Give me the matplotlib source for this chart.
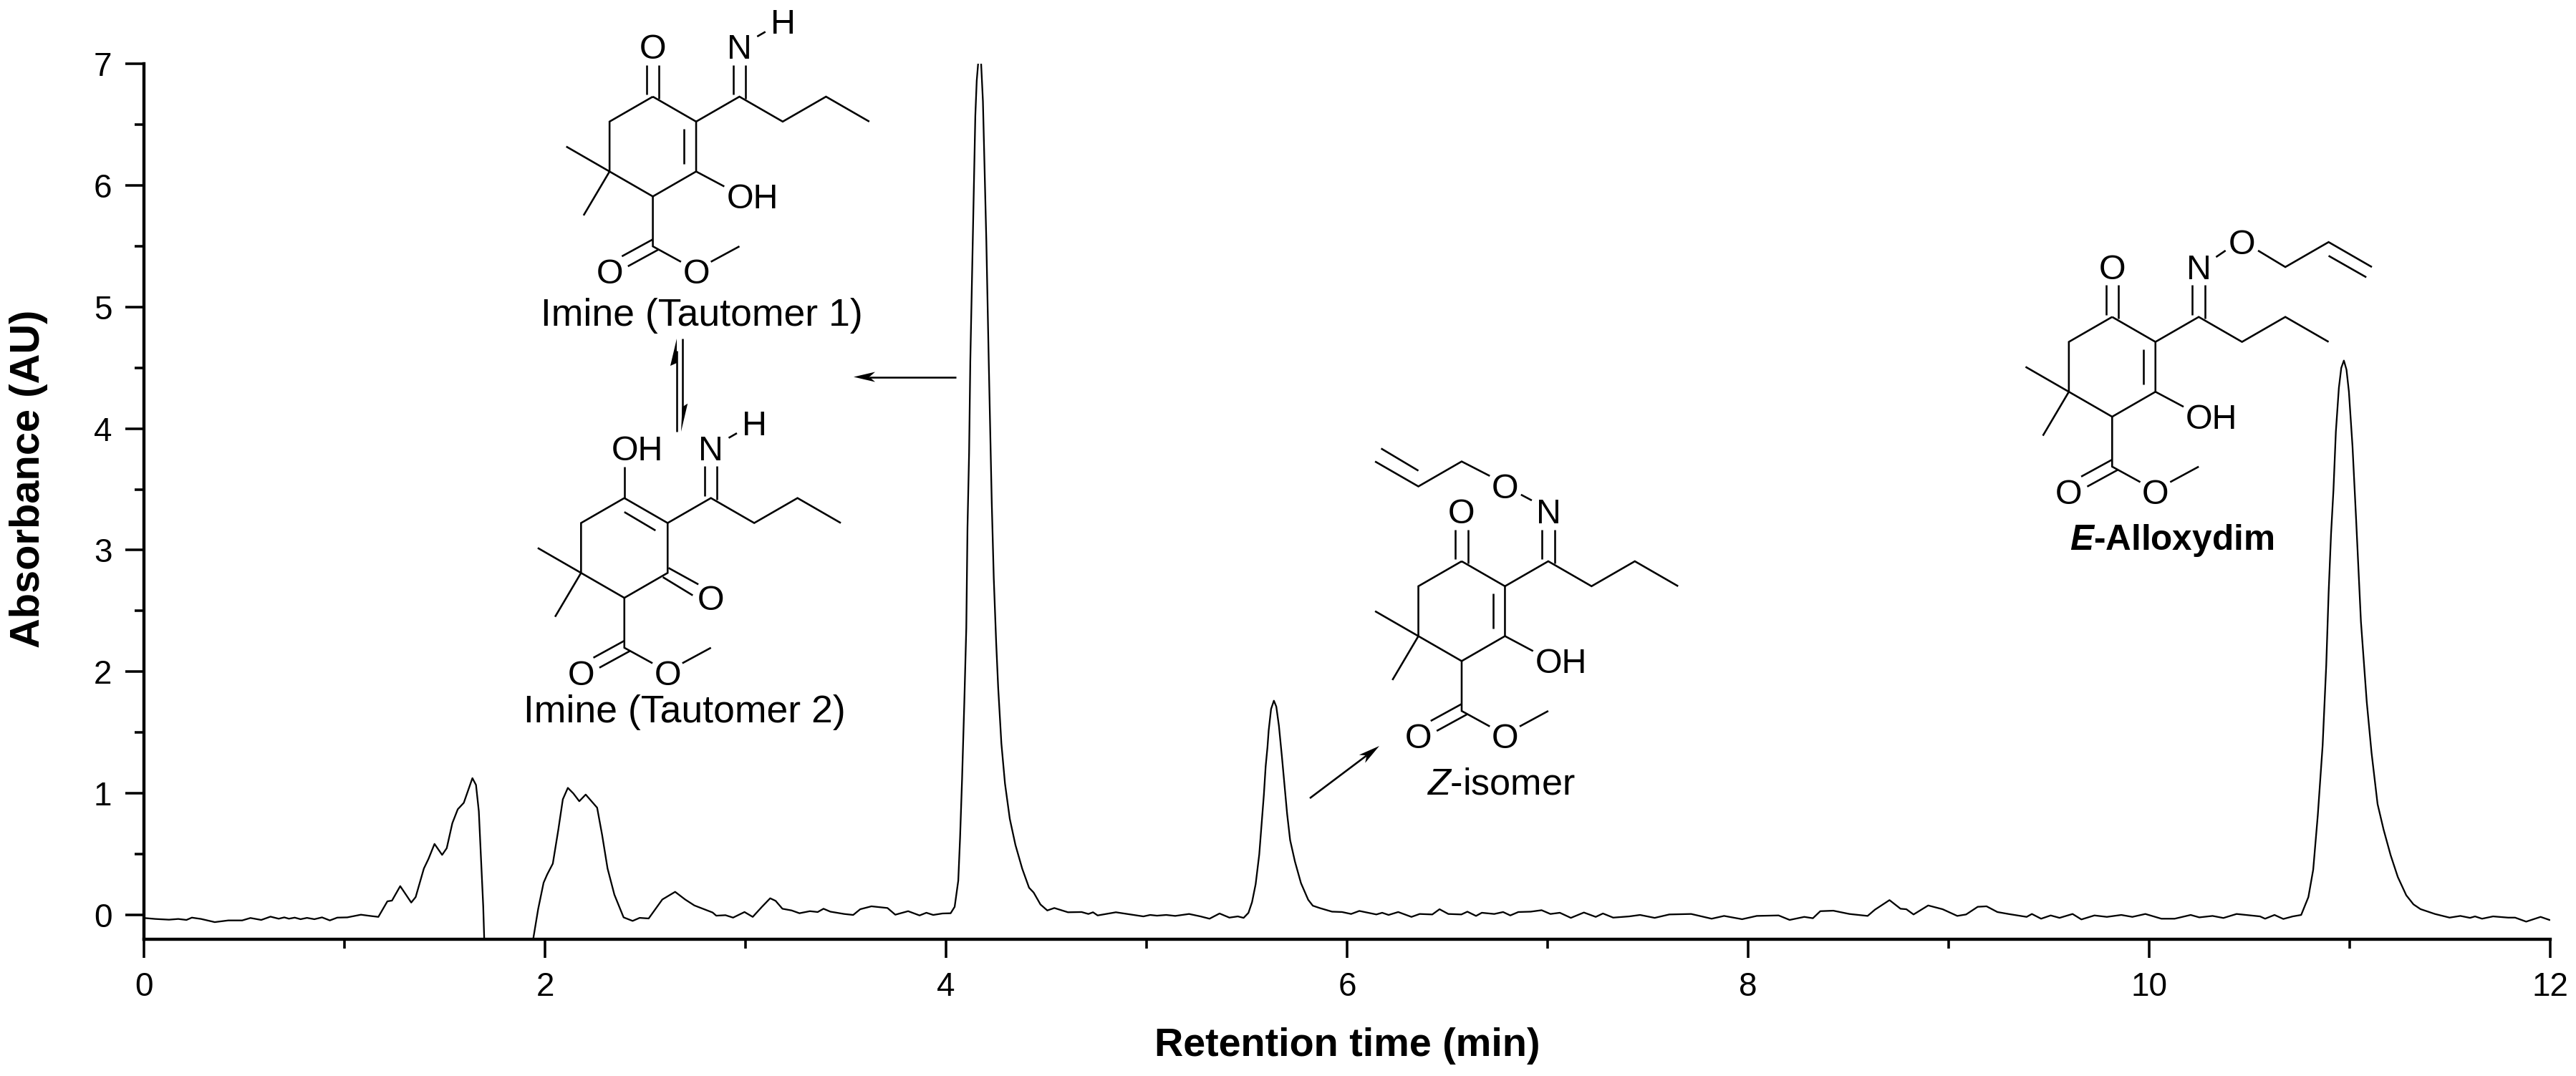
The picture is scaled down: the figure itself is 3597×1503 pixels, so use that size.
import numpy as np
import matplotlib
matplotlib.use('Agg')
import matplotlib.pyplot as plt
from matplotlib.ticker import MultipleLocator

plt.rcParams['font.family'] = ['Liberation Sans', 'DejaVu Sans']
plt.rcParams['mathtext.fontset'] = 'custom'
plt.rcParams['mathtext.it'] = 'Liberation Sans:italic'
plt.rcParams['mathtext.bfit'] = 'Liberation Sans:italic:bold'

# Chromatogram. The trace leaves the axis between
# the two solvent humps, so it comes in two parts.
rt_front = [0, .057, .125, .171, .212, .239, .285, .353, .421, .49, .531, .585, .631, .672, .7, .723, .752, .781, .813,
            .85, .888, .927, .964, 1.014, 1.082, 1.128, 1.169, 1.214, 1.237, 1.278, 1.333, 1.355, 1.396, 1.419,
            1.449, 1.487, 1.51, 1.538, 1.565, 1.595, 1.638, 1.656, 1.67, 1.681, 1.692, 1.697]
abs_front = [-.025, -.033, -.039, -.033, -.041, -.022, -.033, -.059, -.045, -.045, -.025, -.041, -.014, -.031, -.02,
             -.031, -.022, -.035, -.024, -.035, -.02, -.045, -.022, -.02, .002, -.008, -.016, .112, .118, .237,
             .102, .147, .382, .461, .584, .494, .549, .755, .869, .922, 1.125, 1.069, .853, .461, .069, -.2]

rt_hump = [1.941, 1.966, 1.993, 2.011, 2.039, 2.066, 2.089, 2.114, 2.141, 2.171, 2.203, 2.232, 2.26, 2.285, 2.312,
           2.346, 2.392, 2.437, 2.472, 2.517, 2.585, 2.649, 2.699, 2.745, 2.836, 2.854, 2.9, 2.938, 2.995, 3.036,
           3.082, 3.123, 3.15, 3.184, 3.23, 3.269, 3.321, 3.36, 3.389, 3.423, 3.492, 3.537, 3.572, 3.628, 3.708,
           3.747, 3.811, 3.868, 3.902, 3.936, 3.982, 4.023, 4.043]
abs_hump = [-.2, .049, .265, .333, .422, .696, .951, 1.045, 1.0, .935, .99, .935, .882, .657, .382,
            .167, -.02, -.049, -.024, -.029, .127, .19, .127, .078, .02, -.006, -.002, -.022, .024, -.016,
            .067, .137, .116, .051, .037, .014, .031, .024, .051, .027, .008, 0, .047, .071, .057,
            .002, .031, -.004, .018, 0, .012, .014, .067]

rt_imine = [4.061, 4.07, 4.08, 4.091, 4.101, 4.107, 4.115, 4.121, 4.127, 4.133, 4.139, 4.146, 4.153, 4.16, 4.168,
            4.175, 4.184, 4.193, 4.201, 4.208, 4.213, 4.22, 4.228, 4.238, 4.25, 4.26, 4.276, 4.294, 4.318, 4.346,
            4.38, 4.414, 4.437, 4.471, 4.505, 4.54, 4.608, 4.676, 4.71, 4.733, 4.756, 4.847, 4.927, 4.984, 5.018,
            5.052, 5.098, 5.143, 5.212, 5.269, 5.314, 5.364, 5.413, 5.455, 5.484]
abs_imine = [.282, .635, 1.12, 1.74, 2.36, 3.185, 3.8, 4.55, 5.04, 5.54, 5.99, 6.57, 6.86, 7.0, 7.04,
             7.0, 6.69, 6.07, 5.54, 4.96, 4.55, 4.01, 3.39, 2.77, 2.24, 1.87, 1.41, 1.08, .79, .576,
             .38, .224, .184, .086, .037, .057, .022, .024, .008, .022, -.004, .022, .002, -.012, 0,
             -.006, 0, -.008, .008, -.012, -.031, .012, -.022, -.012, -.024]

rt_z = [5.508, 5.526, 5.544, 5.562, 5.574, 5.585, 5.594, 5.603, 5.609, 5.621, 5.635, 5.647, 5.66, 5.675, 5.687,
        5.701, 5.716, 5.74, 5.77, 5.806, 5.829, 5.865, 5.925, 5.975, 6.02, 6.061, 6.146, 6.175, 6.207, 6.255,
        6.321, 6.362, 6.425]
abs_z = [.017, .105, .253, .498, .753, .988, 1.223, 1.38, 1.517, 1.694, 1.762, 1.713, 1.556, 1.302, 1.086,
         .831, .615, .439, .262, .125, .076, .056, .027, .024, .008, .033, .004, .018, 0, .024,
         -.016, .008, .004]

rt_flat = [6.461, 6.505, 6.57, 6.6, 6.643, 6.672, 6.734, 6.778, 6.814, 6.854, 6.916, 6.97, 7.014, 7.061, 7.116,
           7.181, 7.24, 7.276, 7.327, 7.407, 7.461, 7.534, 7.607, 7.716, 7.818, 7.88, 7.97, 8.043, 8.152, 8.207,
           8.28, 8.323, 8.36, 8.425, 8.505, 8.596, 8.632, 8.705, 8.76, 8.789, 8.825, 8.898, 8.97, 9.043, 9.087,
           9.145, 9.189, 9.243, 9.298, 9.389, 9.415, 9.461, 9.509, 9.553, 9.618, 9.662, 9.727, 9.789, 9.861,
           9.916, 9.981, 10.061, 10.127, 10.207, 10.25, 10.316, 10.37, 10.436, 10.553, 10.578, 10.625, 10.669,
           10.716]
abs_flat = [.047, .008, .004, .027, -.008, .018, .008, .024, -.004, .024, .027, .039, .008, .018, -.024,
            .02, -.016, .012, -.022, -.012, 0, -.024, .004, .008, -.031, -.008, -.035, -.008, -.004, -.041,
            -.016, -.027, .031, .035, .008, -.008, .043, .122, .051, .047, .004, .078, .047, -.008, .004,
            .067, .071, .024, .008, -.016, .008, -.031, -.004, -.024, .008, -.037, -.004, -.016, 0,
            -.016, .008, -.031, -.031, 0, -.02, -.008, -.025, .008, -.012, -.031, 0, -.033,
            -.012]

rt_e = [10.758, 10.794, 10.818, 10.841, 10.865, 10.883, 10.895, 10.907, 10.919, 10.931, 10.946, 10.958, 10.971,
        10.984, 10.996, 11.014, 11.032, 11.056, 11.085, 11.109, 11.139, 11.169, 11.204, 11.24, 11.282, 11.318,
        11.353, 11.425, 11.498, 11.552, 11.6, 11.625, 11.66, 11.715, 11.79, 11.825, 11.88, 11.952, 11.996]
abs_e = [0, .147, .372, .822, 1.393, 2.053, 2.653, 3.133, 3.494, 3.974, 4.334, 4.499, 4.559,
         4.484, 4.304, 3.854, 3.253, 2.413, 1.753, 1.333, .912, .702, .492, .312, .162, .087,
         .048, .008, -.022, -.008, -.024, -.012, -.031, -.012, -.022, -.022, -.055, -.016, -.041]

xticks = [0, 2, 4, 6, 8, 10, 12]
yticks = [0, 1, 2, 3, 4, 5, 6, 7]

W, H = 3597, 1503
fig = plt.figure(figsize=(W / 300, H / 300), dpi=300)
ax = fig.add_axes([201 / W, (H - 1312) / H, 3360 / W, 1223 / H])

rt = np.concatenate([rt_front, [np.nan], rt_hump, rt_imine, rt_z, rt_flat, rt_e])
absorbance = np.concatenate([abs_front, [np.nan], abs_hump, abs_imine, abs_z, abs_flat, abs_e])
ax.plot(rt, absorbance, color='black', lw=0.55)

ax.set_xlim(0, 12)
ax.set_ylim(-0.2, 7)
ax.set_xticks(xticks)
ax.set_yticks(yticks)
ax.xaxis.set_minor_locator(MultipleLocator(1))
ax.yaxis.set_minor_locator(MultipleLocator(0.5))
ax.tick_params(which='major', length=6.2, width=0.85, labelsize=11, pad=4.5)
ax.tick_params(which='minor', length=3.2, width=0.85)
for side in ['top', 'right']:
    ax.spines[side].set_visible(False)
for side in ['left', 'bottom']:
    ax.spines[side].set_linewidth(1.05)

ax.set_xlabel('Retention time (min)', fontsize=13.4, fontweight='bold', va='center')
ax.set_ylabel('Absorbance (AU)', fontsize=13.9, fontweight='bold', va='center')
ax.xaxis.set_label_coords(0.5, (1312 - 1461) / 1223)
ax.yaxis.set_label_coords((40 - 201) / 3360, (1312 - 669) / 1223)

# Overlay in picture pixels for the drawn structures and arrows.
mol = fig.add_axes([0, 0, 1, 1])
mol.set_xlim(0, W)
mol.set_ylim(H, 0)
mol.axis('off')

# Bond coordinates are on a hexagonal grid, in these pixel steps.
DX, DY = 60.45, 34.85

ring = [(0, 0), (1, 1), (1, 3), (0, 4), (-1, 3), (-1, 1), (0, 0)]
chain = [(1, 1), (2, 0), (3, 1), (4, 0), (5, 1)]
methyls = [[(-1, 3), (-2, 2)], [(-1, 3), (-1.6, 4.76)]]
ester = [[(0, 4), (0, 6), (.65, 6.62)], [(1.34, 6.62), (2, 6)],
         [(-.715, 6.4), (0, 5.72)], [(-.576, 6.8), (.14, 6.12)]]
imine_double = [[(1.855, -1.27), (1.855, -.08)], [(2.145, -1.27), (2.145, .08)]]
enol_core = [[(-.145, -1.27), (-.145, -.08)], [(.145, -1.27), (.145, .08)],
             [(.72, 1.3), (.72, 2.7)], [(1, 3), (1.65, 3.6)]]
keto_core = [[(0, 0), (0, -1.25)], [(0, .56), (.72, 1.3)],
             [(1.02, 2.8), (1.71, 3.46)], [(.89, 3.17), (1.58, 3.9)]]
nh_bond = [[(2.41, -2.41), (2.6, -2.6)]]
z_oxime = [[(1.37, -2.67), (1.62, -2.44)], [(.65, -3.42), (0, -4), (-1, -3), (-2, -4)],
           [(-1, -3.63), (-1.86, -4.52)]]
e_oxime = [[(2.4, -2.4), (2.62, -2.66)], [(3.37, -2.66), (4, -2), (5, -3), (6, -2)],
           [(5, -2.45), (5.87, -1.59)]]


def bonds(origin, paths):
    for path in paths:
        p = np.array(path, dtype=float)
        mol.plot(origin[0] + p[:, 0] * DX, origin[1] + p[:, 1] * DY, color='black', lw=0.62,
                 solid_capstyle='butt', solid_joinstyle='miter')


def atom(origin, i, j, label, left=False):
    x = origin[0] + i * DX
    y = origin[1] + j * DY + 17
    if left:
        mol.text(x - 18, y, label, fontsize=11.6, ha='left', va='baseline')
    else:
        mol.text(x, y, label, fontsize=11.6, ha='center', va='baseline')


def common(origin):
    bonds(origin, [ring, chain] + methyls + ester + imine_double)
    atom(origin, -1, 7, 'O')
    atom(origin, 1, 7, 'O')
    atom(origin, 2, -2, 'N')


def arrow(tail, tip):
    tail, tip = np.array(tail, dtype=float), np.array(tip, dtype=float)
    d = (tip - tail) / np.hypot(*(tip - tail))
    n = np.array([-d[1], d[0]])
    head = np.array([tip, tip - 30 * d + 7 * n, tip - 22 * d, tip - 30 * d - 7 * n])
    neck = tip - 22 * d
    mol.plot([tail[0], neck[0]], [tail[1], neck[1]], color='black', lw=0.62, solid_capstyle='butt')
    mol.fill(head[:, 0], head[:, 1], color='black', lw=0)


taut1 = (911.6, 135)
common(taut1)
bonds(taut1, enol_core + nh_bond)
atom(taut1, 0, -2, 'O')
atom(taut1, 2, 4, 'OH', left=True)
atom(taut1, 3, -3, 'H')
mol.text(980, 455, 'Imine (Tautomer 1)', fontsize=12.85, ha='center', va='baseline')

taut2 = (871.8, 695.7)
common(taut2)
bonds(taut2, keto_core + nh_bond)
atom(taut2, 0, -2, 'OH', left=True)
atom(taut2, 2, 4, 'O')
atom(taut2, 3, -3, 'H')
mol.text(955.5, 1009.5, 'Imine (Tautomer 2)', fontsize=12.85, ha='center', va='baseline')

z_iso = (2041, 784)
common(z_iso)
bonds(z_iso, enol_core + z_oxime)
atom(z_iso, 0, -2, 'O')
atom(z_iso, 2, 4, 'OH', left=True)
atom(z_iso, 1, -3, 'O')
mol.text(2096, 1110, '$\\mathit{Z}$-isomer', fontsize=12.5, ha='center', va='baseline')

e_iso = (2949.3, 442.7)
common(e_iso)
bonds(e_iso, enol_core + e_oxime)
atom(e_iso, 0, -2, 'O')
atom(e_iso, 2, 4, 'OH', left=True)
atom(e_iso, 3, -3, 'O')
mol.text(3032.5, 768, '$\\mathbfit{E}$-Alloxydim', fontsize=11.9, fontweight='bold', ha='center', va='baseline')

# Peak arrows
arrow((1335, 526.5), (1192, 526.5))
arrow((1829, 1115), (1926, 1042))

# Equilibrium half arrows between the two tautomers
mol.plot([945, 945], [603, 490], color='black', lw=0.62, solid_capstyle='butt')
mol.fill([945, 936, 945], [473, 511, 507], color='black', lw=0)
mol.plot([952.6, 952.6], [473, 585], color='black', lw=0.62, solid_capstyle='butt')
mol.fill([951, 960.2, 952.6], [603, 563.7, 568.6], color='black', lw=0)

fig.savefig('out.png', dpi=300)
